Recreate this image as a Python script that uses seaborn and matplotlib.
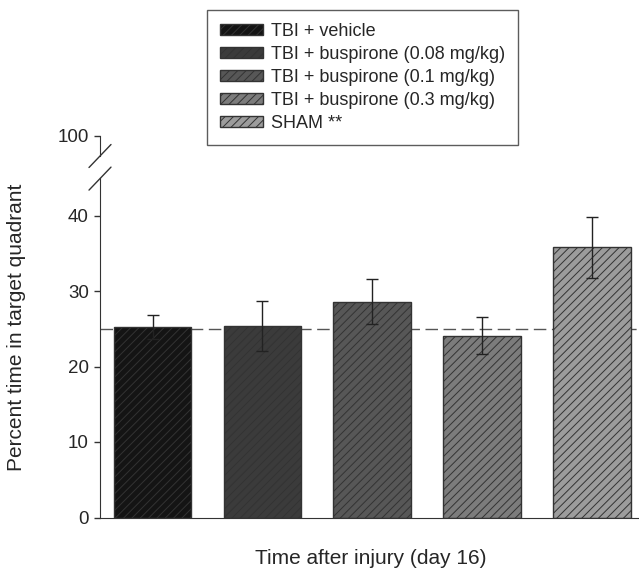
import numpy as np
import pandas as pd
import matplotlib
matplotlib.use("Agg")
import matplotlib.pyplot as plt
import seaborn as sns
from matplotlib.patches import Patch
from matplotlib.lines import Line2D

# veriler
groups = ["TBI + vehicle", "TBI + buspirone (0.08 mg/kg)",
          "TBI + buspirone (0.1 mg/kg)", "TBI + buspirone (0.3 mg/kg)",
          "SHAM **"]
means = [25.2, 25.4, 28.6, 24.1, 35.8]
sems = [1.6, 3.3, 3.0, 2.4, 4.05]
chance = 25
colors = ["#141414", "#3b3b3b", "#575757", "#7c7c7c", "#9c9c9c"]
lower_ticks = [0, 10, 20, 30, 40]
upper_ticks = [100]

sns.set_style("ticks")
plt.rcParams["font.family"] = ["Liberation Sans", "DejaVu Sans"]
plt.rcParams["hatch.color"] = "black"
plt.rcParams["hatch.linewidth"] = 0.7

W, H = 639, 572
fig = plt.figure(figsize=(W / 100, H / 100), dpi=100)

# alt eksen (0-45) ve üst eksen (100 civarı) -> kırık eksen
ax = fig.add_axes([100 / W, 54.5 / H, 539 / W, 45 * 7.55 / H])
ax_top = fig.add_axes([100 / W, 1 - 136 / H - 2.6 * 7.55 / H, 539 / W, 2.6 * 7.55 / H])

df = pd.DataFrame({"group": groups, "mean": means, "sem": sems})
sns.barplot(data=df, x="group", y="mean", hue="group", palette=colors,
            legend=False, width=0.706, edgecolor="#333333", linewidth=1,
            ax=ax)
for p in ax.patches:
    p.set_hatch("////")

ax.errorbar(np.arange(len(groups)), df["mean"], yerr=df["sem"], fmt="none",
            ecolor="#222222", elinewidth=1, capsize=4.5, capthick=1)
ax.axhline(chance, color="#555555", lw=1, ls=(0, (9, 4)), zorder=0.5)

ax.set_xlim(-0.48, 4.43)
ax.set_ylim(0, 45)
ax.set_yticks(lower_ticks)
ax.set_xticks([])
ax.set_xlabel("")
ax.set_ylabel("")
for a in (ax, ax_top):
    a.tick_params(axis="y", labelsize=13.5, length=4, width=1, color="#333333", pad=4)
    a.spines["left"].set_color("#333333")
ax.spines["bottom"].set_color("#333333")
sns.despine(ax=ax)

ax_top.set_ylim(97.4, 100)
ax_top.set_yticks(upper_ticks)
ax_top.set_xticks([])
ax_top.patch.set_alpha(0)
for s in ["top", "right", "bottom"]:
    ax_top.spines[s].set_visible(False)

# kırık işaretleri
for yc in (156, 178.6):
    fig.add_artist(Line2D([89 / W, 111 / W], [1 - (yc + 11.5) / H, 1 - (yc - 11.5) / H],
                          transform=fig.transFigure, color="#333333", lw=1))

handles = [Patch(facecolor=c, edgecolor="#333333", hatch="////", label=g)
           for c, g in zip(colors, groups)]
leg = fig.legend(handles=handles, loc="upper left", bbox_to_anchor=(207 / W, 1 - 10 / H),
                 frameon=True, fancybox=False, edgecolor="#333333", fontsize=13,
                 handlelength=2.4, handleheight=0.55, handletextpad=0.45,
                 labelspacing=0.34, borderpad=0.7, borderaxespad=0)
leg.get_frame().set_linewidth(1)

fig.text(17 / W, 1 - 327 / H, "Percent time in target quadrant", rotation=90,
         ha="center", va="center", fontsize=15)
fig.text(371 / W, 1 - 559 / H, "Time after injury (day 16)",
         ha="center", va="center", fontsize=15)

plt.savefig("out.png", dpi=100)
